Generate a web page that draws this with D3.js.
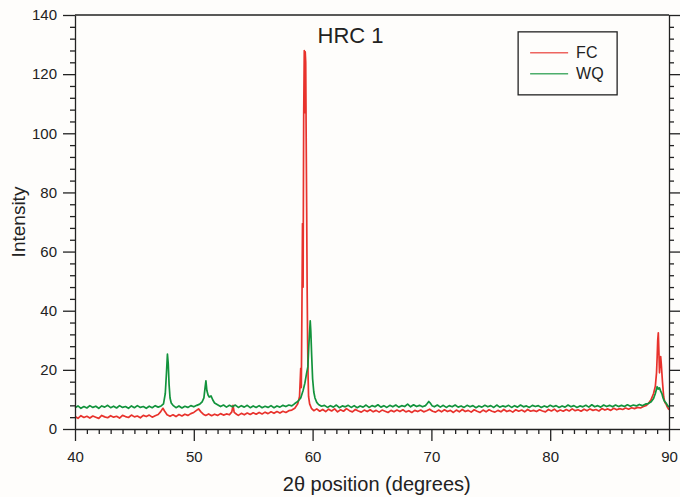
<!DOCTYPE html>
<html>
<head>
<meta charset="utf-8">
<script src="https://cdn.jsdelivr.net/npm/d3@7"></script>
<style>
  body { margin: 0; background: #fefdfb; }
  text { font-family: "Liberation Sans", Arial, sans-serif; fill: #222; }
</style>
</head>
<body>
<div id="plot"></div>
<script>
// Series values [2theta, intensity]
var fcData = [
  [40,4.2],[40.25,3.6],[40.5,4.5],[40.75,3.9],[41,4.3],[41.25,3.7],[41.5,4.4],[41.75,4.0],[42,3.6],[42.25,4.6],
  [42.5,4.1],[42.75,3.8],[43,4.5],[43.25,4.0],[43.5,4.3],[43.75,3.7],[44,4.6],[44.25,4.2],[44.5,3.9],[44.75,4.7],
  [45,4.1],[45.25,4.4],[45.5,3.8],[45.75,4.6],[46,4.2],[46.25,4.7],[46.5,4.0],[46.75,4.5],[47,4.9],[47.2,5.8],
  [47.4,7.0],[47.55,6.0],[47.75,4.8],[48,4.3],[48.25,4.8],[48.5,4.2],[48.75,4.9],[49,4.4],[49.25,5.0],[49.5,4.6],
  [49.75,5.2],[50,5.6],[50.2,6.2],[50.4,6.8],[50.6,5.8],[50.8,5.0],[51,4.6],[51.25,5.1],[51.5,4.5],[51.75,5.0],
  [52,4.6],[52.25,5.2],[52.5,4.7],[52.75,5.1],[53,4.8],[53.2,5.8],[53.3,8.0],[53.4,5.6],[53.6,5.0],[53.75,4.6],
  [54,5.3],[54.25,4.8],[54.5,5.4],[54.75,4.9],[55,5.5],[55.25,5.0],[55.5,5.6],[55.75,5.1],[56,5.7],[56.25,5.2],
  [56.5,5.8],[56.75,5.3],[57,5.9],[57.25,5.4],[57.5,6.0],[57.75,5.6],[58,6.2],[58.25,6.4],[58.5,7.0],[58.75,8.5],
  [58.9,11],[59.0,20.5],[59.05,14],[59.1,40],[59.15,69.5],[59.2,48],[59.25,106],[59.3,128],[59.33,107],[59.38,127.5],
  [59.42,124],[59.46,98.5],[59.5,75],[59.54,48],[59.58,30],[59.62,18],[59.66,11],[59.75,8.5],[59.9,7.0],[60.1,6.2],
  [60.35,6.8],[60.6,6.0],[60.85,6.6],[61.1,5.9],[61.35,6.7],[61.6,6.1],[61.85,6.8],[62.1,5.8],[62.35,6.5],[62.6,6.0],
  [62.85,6.9],[63.1,6.2],[63.35,5.8],[63.6,6.6],[63.85,6.1],[64.1,5.7],[64.35,6.4],[64.6,5.9],[64.85,6.5],[65.1,5.8],
  [65.35,6.3],[65.6,5.7],[65.85,6.4],[66.1,6.0],[66.35,5.6],[66.6,6.3],[66.85,5.8],[67.1,6.4],[67.35,5.9],[67.6,6.5],
  [67.85,5.8],[68.1,6.2],[68.35,5.6],[68.6,6.3],[68.85,5.9],[69.1,6.4],[69.35,5.8],[69.6,6.2],[69.85,6.7],[70.1,6.0],
  [70.35,5.7],[70.6,6.4],[70.85,5.8],[71.1,6.5],[71.35,5.9],[71.6,6.3],[71.85,5.6],[72.1,6.4],[72.35,5.8],[72.6,6.6],
  [72.85,5.9],[73.1,6.3],[73.35,5.7],[73.6,6.5],[73.85,6.0],[74.1,5.6],[74.35,6.4],[74.6,5.8],[74.85,6.5],[75.1,6.0],
  [75.35,5.7],[75.6,6.3],[75.85,5.8],[76.1,6.6],[76.35,5.9],[76.6,6.3],[76.85,5.7],[77.1,6.5],[77.35,6.0],[77.6,6.4],
  [77.85,5.8],[78.1,6.6],[78.35,6.0],[78.6,6.3],[78.85,5.9],[79.1,6.5],[79.35,6.1],[79.6,5.8],[79.85,6.6],[80.1,6.1],
  [80.35,6.7],[80.6,5.9],[80.85,6.4],[81.1,6.0],[81.35,6.6],[81.6,6.1],[81.85,6.8],[82.1,6.2],[82.35,6.5],[82.6,6.0],
  [82.85,6.7],[83.1,6.2],[83.35,6.8],[83.6,6.3],[83.85,6.6],[84.1,6.1],[84.35,6.9],[84.6,6.4],[84.85,6.8],[85.1,6.3],
  [85.35,7.0],[85.6,6.5],[85.85,6.9],[86.1,6.6],[86.35,7.1],[86.6,6.7],[86.85,7.2],[87.1,6.9],[87.35,7.3],[87.6,7.1],
  [87.85,7.6],[88.1,8.0],[88.3,8.8],[88.5,10.0],[88.7,12.0],[88.85,14.5],[88.95,19.0],[89.0,24],[89.05,30],[89.1,32.5],
  [89.15,26],[89.2,19],[89.25,23],[89.3,24.5],[89.35,22],[89.45,16],[89.55,11],[89.65,9],[89.75,8.5],[89.85,7.5],
  [90,6.5]
];

var wqData = [
  [40,7.2],[40.25,7.8],[40.5,7.0],[40.75,7.6],[41,7.1],[41.25,7.9],[41.5,7.3],[41.75,7.7],[42,7.0],[42.25,7.8],
  [42.5,7.4],[42.75,8.0],[43,7.2],[43.25,7.7],[43.5,7.1],[43.75,7.9],[44,7.3],[44.25,7.6],[44.5,7.0],[44.75,7.8],
  [45,7.2],[45.25,7.9],[45.5,7.3],[45.75,7.6],[46,7.0],[46.25,7.7],[46.5,7.2],[46.75,7.9],[47,7.4],[47.25,7.8],
  [47.45,8.5],[47.6,12],[47.7,19],[47.78,25.3],[47.85,22],[47.92,15],[48.0,10.5],[48.1,8.8],[48.25,8.0],[48.5,7.2],
  [48.75,7.8],[49,7.1],[49.25,7.7],[49.5,7.3],[49.75,7.9],[50,7.5],[50.25,8.0],[50.5,8.4],[50.7,9.2],[50.85,10.5],
  [50.95,14],[51.02,16.3],[51.1,13],[51.2,11.5],[51.3,10.8],[51.45,11.2],[51.6,9.8],[51.75,8.8],[52,8.2],[52.25,7.6],
  [52.5,8.1],[52.75,7.4],[53,8.0],[53.25,7.5],[53.5,8.1],[53.75,7.3],[54,7.9],[54.25,7.4],[54.5,8.0],[54.75,7.2],
  [55,7.8],[55.25,7.3],[55.5,7.9],[55.75,7.2],[56,7.7],[56.25,7.3],[56.5,7.9],[56.75,7.2],[57,7.8],[57.25,7.4],
  [57.5,8.0],[57.75,7.6],[58,8.1],[58.25,7.8],[58.5,8.6],[58.75,9.3],[59.0,10.5],[59.2,13],[59.35,15.5],[59.5,19],
  [59.6,21],[59.68,28],[59.75,33],[59.8,36.6],[59.85,33],[59.92,25],[60.0,17],[60.1,12.5],[60.2,10.5],[60.35,9.0],
  [60.5,8.3],[60.75,7.7],[61,8.0],[61.25,7.3],[61.5,7.9],[61.75,7.4],[62,8.1],[62.25,7.2],[62.5,7.8],[62.75,7.5],
  [63,8.0],[63.25,7.3],[63.5,7.9],[63.75,7.2],[64,7.8],[64.25,7.4],[64.5,8.1],[64.75,7.3],[65,7.9],[65.25,7.5],
  [65.5,8.2],[65.75,7.4],[66,7.9],[66.25,7.3],[66.5,8.0],[66.75,7.5],[67,8.1],[67.25,7.4],[67.5,7.9],[67.75,7.6],
  [68,8.4],[68.25,7.5],[68.5,8.2],[68.75,7.6],[69,8.0],[69.25,7.5],[69.5,7.9],[69.65,8.6],[69.78,9.3],[69.9,8.8],
  [70.05,7.9],[70.25,7.5],[70.5,8.1],[70.75,7.4],[71,8.0],[71.25,7.3],[71.5,7.9],[71.75,7.5],[72,8.1],[72.25,7.4],
  [72.5,7.8],[72.75,7.3],[73,8.0],[73.25,7.5],[73.5,7.9],[73.75,7.2],[74,7.8],[74.25,7.4],[74.5,8.0],[74.75,7.5],
  [75,7.9],[75.25,7.3],[75.5,8.1],[75.75,7.4],[76,7.8],[76.25,7.5],[76.5,8.0],[76.75,7.3],[77,7.9],[77.25,7.4],
  [77.5,8.1],[77.75,7.5],[78,7.8],[78.25,7.3],[78.5,8.0],[78.75,7.6],[79,7.9],[79.25,7.3],[79.5,7.8],[79.75,7.4],
  [80,8.0],[80.25,7.5],[80.5,7.9],[80.75,7.3],[81,7.8],[81.25,7.4],[81.5,8.1],[81.75,7.5],[82,7.9],[82.25,7.3],
  [82.5,7.8],[82.75,7.5],[83,8.0],[83.25,7.4],[83.5,8.2],[83.75,7.5],[84,7.9],[84.25,7.4],[84.5,8.1],[84.75,7.6],
  [85,8.0],[85.25,7.5],[85.5,8.1],[85.75,7.6],[86,8.0],[86.25,7.6],[86.5,8.2],[86.75,7.7],[87,8.1],[87.25,7.8],
  [87.5,8.3],[87.75,7.9],[88,8.4],[88.25,8.6],[88.5,9.2],[88.7,10.3],[88.85,12.0],[89.0,14.3],[89.1,13.5],[89.2,13.9],
  [89.3,12.8],[89.4,12.0],[89.5,10.5],[89.6,9.5],[89.75,8.8],[89.9,7.8],[90,7.4]
];

var xTicks = [40, 50, 60, 70, 80, 90];
var yTicks = [0, 20, 40, 60, 80, 100, 120, 140];
var seriesNames = ["FC", "WQ"];
var seriesColors = ["#e8322c", "#12933c"];

var W = 680, H = 497;
var margin = {top: 15, right: 11, bottom: 68, left: 75};
var width = W - margin.left - margin.right,
    height = H - margin.top - margin.bottom;

var svg = d3.select("#plot")
  .append("svg")
    .attr("width", W)
    .attr("height", H)
  .append("g")
    .attr("transform", `translate(${margin.left},${margin.top})`);

var x = d3.scaleLinear().domain([40, 90]).range([0, width]);
var y = d3.scaleLinear().domain([0, 140]).range([height, 0]);

var minorX = d3.range(40, 90.01, 1).filter(v => v % 10 !== 0);
var minorY = d3.range(0, 140.01, 4).filter(v => v % 20 !== 0);

// lines first, axes on top
var line = d3.line().x(d => x(d[0])).y(d => y(d[1]));
[fcData, wqData].forEach(function(data, i) {
  svg.append("path")
    .datum(data)
    .attr("fill", "none")
    .attr("stroke", seriesColors[i])
    .attr("stroke-width", 1.7)
    .attr("stroke-linejoin", "round")
    .attr("d", line);
});

function styleAxis(g) {
  g.selectAll("path, line").attr("stroke", "#222").attr("stroke-width", 1.3);
  g.selectAll("text").style("font-size", "15px").attr("fill", "#222");
}

// bottom axis
svg.append("g")
  .attr("transform", `translate(0,${height})`)
  .call(d3.axisBottom(x).tickValues(xTicks).tickSize(12).tickSizeOuter(0).tickPadding(10))
  .call(styleAxis);
svg.append("g")
  .attr("transform", `translate(0,${height})`)
  .call(d3.axisBottom(x).tickValues(minorX).tickSize(5).tickFormat(""))
  .call(g => g.select(".domain").remove())
  .call(styleAxis);

// left axis
svg.append("g")
  .call(d3.axisLeft(y).tickValues(yTicks).tickSize(12).tickSizeOuter(0).tickPadding(6))
  .call(styleAxis);
svg.append("g")
  .call(d3.axisLeft(y).tickValues(minorY).tickSize(5).tickFormat(""))
  .call(g => g.select(".domain").remove())
  .call(styleAxis);

// right axis, ticks only
svg.append("g")
  .attr("transform", `translate(${width},0)`)
  .call(d3.axisRight(y).tickValues(yTicks).tickSize(11).tickSizeOuter(0).tickFormat(""))
  .call(styleAxis);
svg.append("g")
  .attr("transform", `translate(${width},0)`)
  .call(d3.axisRight(y).tickValues(minorY).tickSize(5).tickFormat(""))
  .call(g => g.select(".domain").remove())
  .call(styleAxis);

// top border
svg.append("line")
  .attr("x1", 0).attr("x2", width)
  .attr("y1", 0).attr("y2", 0)
  .attr("stroke", "#222").attr("stroke-width", 1.3);

// title
svg.append("text")
  .attr("x", x(63.2))
  .attr("y", 28)
  .attr("text-anchor", "middle")
  .style("font-size", "22px")
  .text("HRC 1");

// axis labels
svg.append("text")
  .attr("x", x(65.4))
  .attr("y", height + 62)
  .attr("text-anchor", "middle")
  .style("font-size", "20px")
  .text("2θ position (degrees)");

svg.append("text")
  .attr("transform", `translate(${-50},${y(70)}) rotate(-90)`)
  .attr("text-anchor", "middle")
  .style("font-size", "19px")
  .text("Intensity");

// legend
var legend = svg.append("g")
  .attr("transform", `translate(${x(77.3)},${y(134.3)})`);
legend.append("rect")
  .attr("width", 99).attr("height", 63)
  .attr("fill", "none")
  .attr("stroke", "#222").attr("stroke-width", 1.3);
seriesNames.forEach(function(name, i) {
  legend.append("line")
    .attr("x1", 12).attr("x2", 50)
    .attr("y1", 21 + i * 21).attr("y2", 21 + i * 21)
    .attr("stroke", seriesColors[i])
    .attr("stroke-opacity", 0.75)
    .attr("stroke-width", 1.5);
  legend.append("text")
    .attr("x", 58)
    .attr("y", 21 + i * 21)
    .attr("dy", "0.35em")
    .style("font-size", "16px")
    .text(name);
});
</script>
</body>
</html>
